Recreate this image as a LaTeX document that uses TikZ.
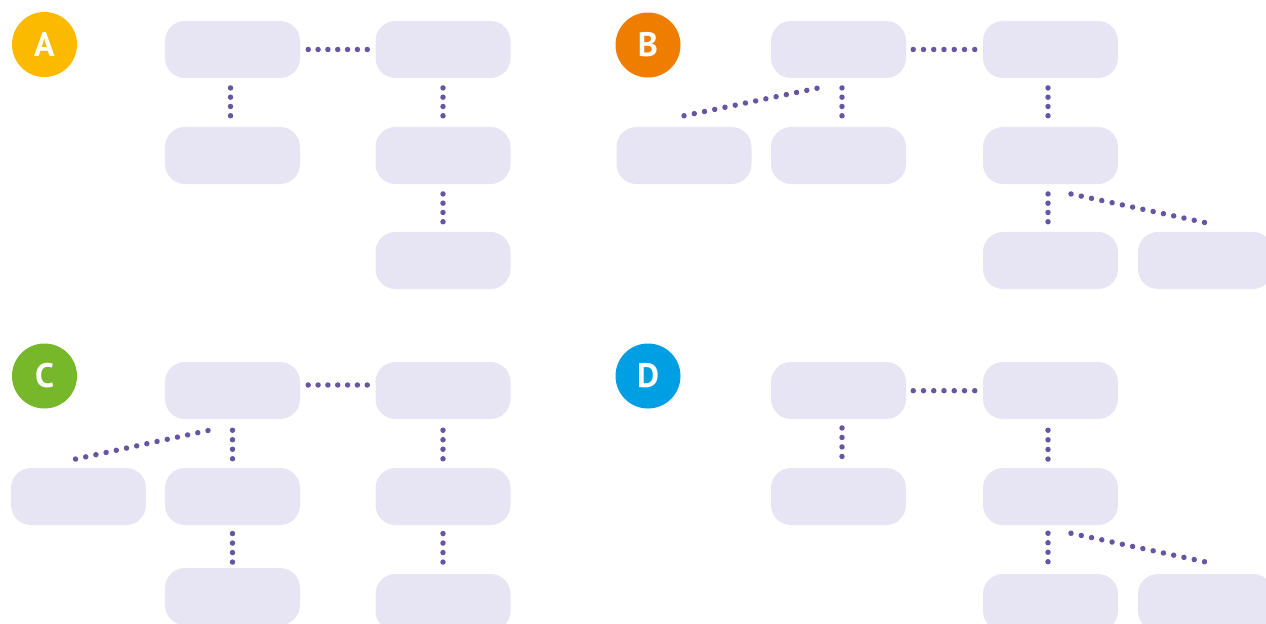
\documentclass[tikz,border=0pt]{standalone}
\usepackage{fontspec}
\setsansfont{PT Sans}
\usetikzlibrary{decorations.markings}
\definecolor{boxfill}{HTML}{E7E5F3}
\definecolor{dotcol}{HTML}{6655A0}
\definecolor{colA}{HTML}{FBBA00}
\definecolor{colB}{HTML}{EF7D00}
\definecolor{colC}{HTML}{76B82A}
\definecolor{colD}{HTML}{009FE3}

\begin{document}
\begin{tikzpicture}[
    x=0.03cm, y=-0.03cm,
    box/.style={fill=boxfill, rounded corners=0.6cm, minimum width=4.05cm, minimum height=1.71cm, inner sep=0pt},
    badge/.style={circle, fill=#1, minimum size=1.95cm, inner sep=0pt, text=white, font=\sffamily\bfseries\fontsize{29}{29}\selectfont},
    dots/.style={postaction={decorate}, decoration={markings,
        mark=between positions 0 and 1 step #1 with {\fill[dotcol] (0,0) circle (0.082cm);}}},
    vdots/.style={dots=0.3333},
    hdots/.style={dots=0.1666},
    sdots/.style={dots=0.0769}]

    \clip (0,0) rectangle (1266,624);

    \node[badge=colA] (labA) at (44.5,44.5) {A};
    \node[box] (a1) at (232.5,49.5) {};
    \node[box] (a2) at (443,49.5) {};
    \node[box] (a3) at (232.5,155.5) {};
    \node[box] (a4) at (443,155.5) {};
    \node[box] (a5) at (443,260.5) {};
    \path[hdots] ([shift={(8,0)}]a1.east) -- ([shift={(-8,0)}]a2.west);
    \path[vdots] ([shift={(-2,9.7)}]a1.south) -- ([shift={(-2,-11)}]a3.north);
    \path[vdots] ([shift={(0,9.7)}]a2.south) -- ([shift={(0,-11)}]a4.north);
    \path[vdots] ([shift={(0,9.7)}]a4.south) -- ([shift={(0,-10)}]a5.north);

    \node[badge=colB] (labB) at (648,45) {B};
    \node[box] (b1) at (838.5,49.5) {};
    \node[box] (b2) at (1050.5,49.5) {};
    \node[box] (b3) at (684,155.5) {};
    \node[box] (b4) at (838.5,155.5) {};
    \node[box] (b5) at (1050.5,155.5) {};
    \node[box] (b6) at (1050.5,260.5) {};
    \node[box] (b7) at (1205.5,260.5) {};
    \path[hdots] ([shift={(7,0)}]b1.east) -- ([shift={(-8,0)}]b2.west);
    \path[sdots] ([shift={(-21.5,10)}]b1.south) -- ([shift={(0,-11)}]b3.north);
    \path[vdots] ([shift={(3.5,9.7)}]b1.south) -- ([shift={(3.5,-11)}]b4.north);
    \path[vdots] ([shift={(-2.5,9.7)}]b2.south) -- ([shift={(-2.5,-11)}]b5.north);
    \path[vdots] ([shift={(-2.5,9.7)}]b5.south) -- ([shift={(-2.5,-10)}]b6.north);
    \path[sdots] ([shift={(20.5,9.7)}]b5.south) -- ([shift={(-1,-9.3)}]b7.north);

    \node[badge=colC] (labC) at (44.5,376) {C};
    \node[box] (c1) at (232.5,390.5) {};
    \node[box] (c2) at (443,390.5) {};
    \node[box] (c3) at (78.5,496.5) {};
    \node[box] (c4) at (232.5,496.5) {};
    \node[box] (c5) at (443,496.5) {};
    \node[box] (c6) at (232.5,596.5) {};
    \node[box] (c7) at (443,602.5) {};
    \path[hdots] ([shift={(8,-5.5)}]c1.east) -- ([shift={(-8,-5.5)}]c2.west);
    \path[sdots] ([shift={(-24.5,11.3)}]c1.south) -- ([shift={(-3,-8.7)}]c3.north);
    \path[vdots] ([shift={(0,11)}]c1.south) -- ([shift={(0,-9)}]c4.north);
    \path[vdots] ([shift={(0,11)}]c2.south) -- ([shift={(0,-9)}]c5.north);
    \path[vdots] ([shift={(0,8.3)}]c4.south) -- ([shift={(0,-5.7)}]c6.north);
    \path[vdots] ([shift={(0,8.3)}]c5.south) -- ([shift={(0,-11.7)}]c7.north);

    \node[badge=colD] (labD) at (648,376) {D};
    \node[box] (d1) at (838.5,390.5) {};
    \node[box] (d2) at (1050.5,390.5) {};
    \node[box] (d3) at (838.5,496.5) {};
    \node[box] (d4) at (1050.5,496.5) {};
    \node[box] (d5) at (1050.5,602.5) {};
    \node[box] (d6) at (1205.5,602.5) {};
    \path[hdots] ([shift={(7,0.2)}]d1.east) -- ([shift={(-8,0.2)}]d2.west);
    \path[vdots] ([shift={(3.5,8.7)}]d1.south) -- ([shift={(3.5,-11.3)}]d3.north);
    \path[vdots] ([shift={(-2.5,11)}]d2.south) -- ([shift={(-2.5,-8.7)}]d4.north);
    \path[vdots] ([shift={(-2.5,8)}]d4.south) -- ([shift={(-2.5,-12)}]d5.north);
    \path[sdots] ([shift={(20.5,8)}]d4.south) -- ([shift={(-1,-12)}]d6.north);
\end{tikzpicture}
\end{document}
